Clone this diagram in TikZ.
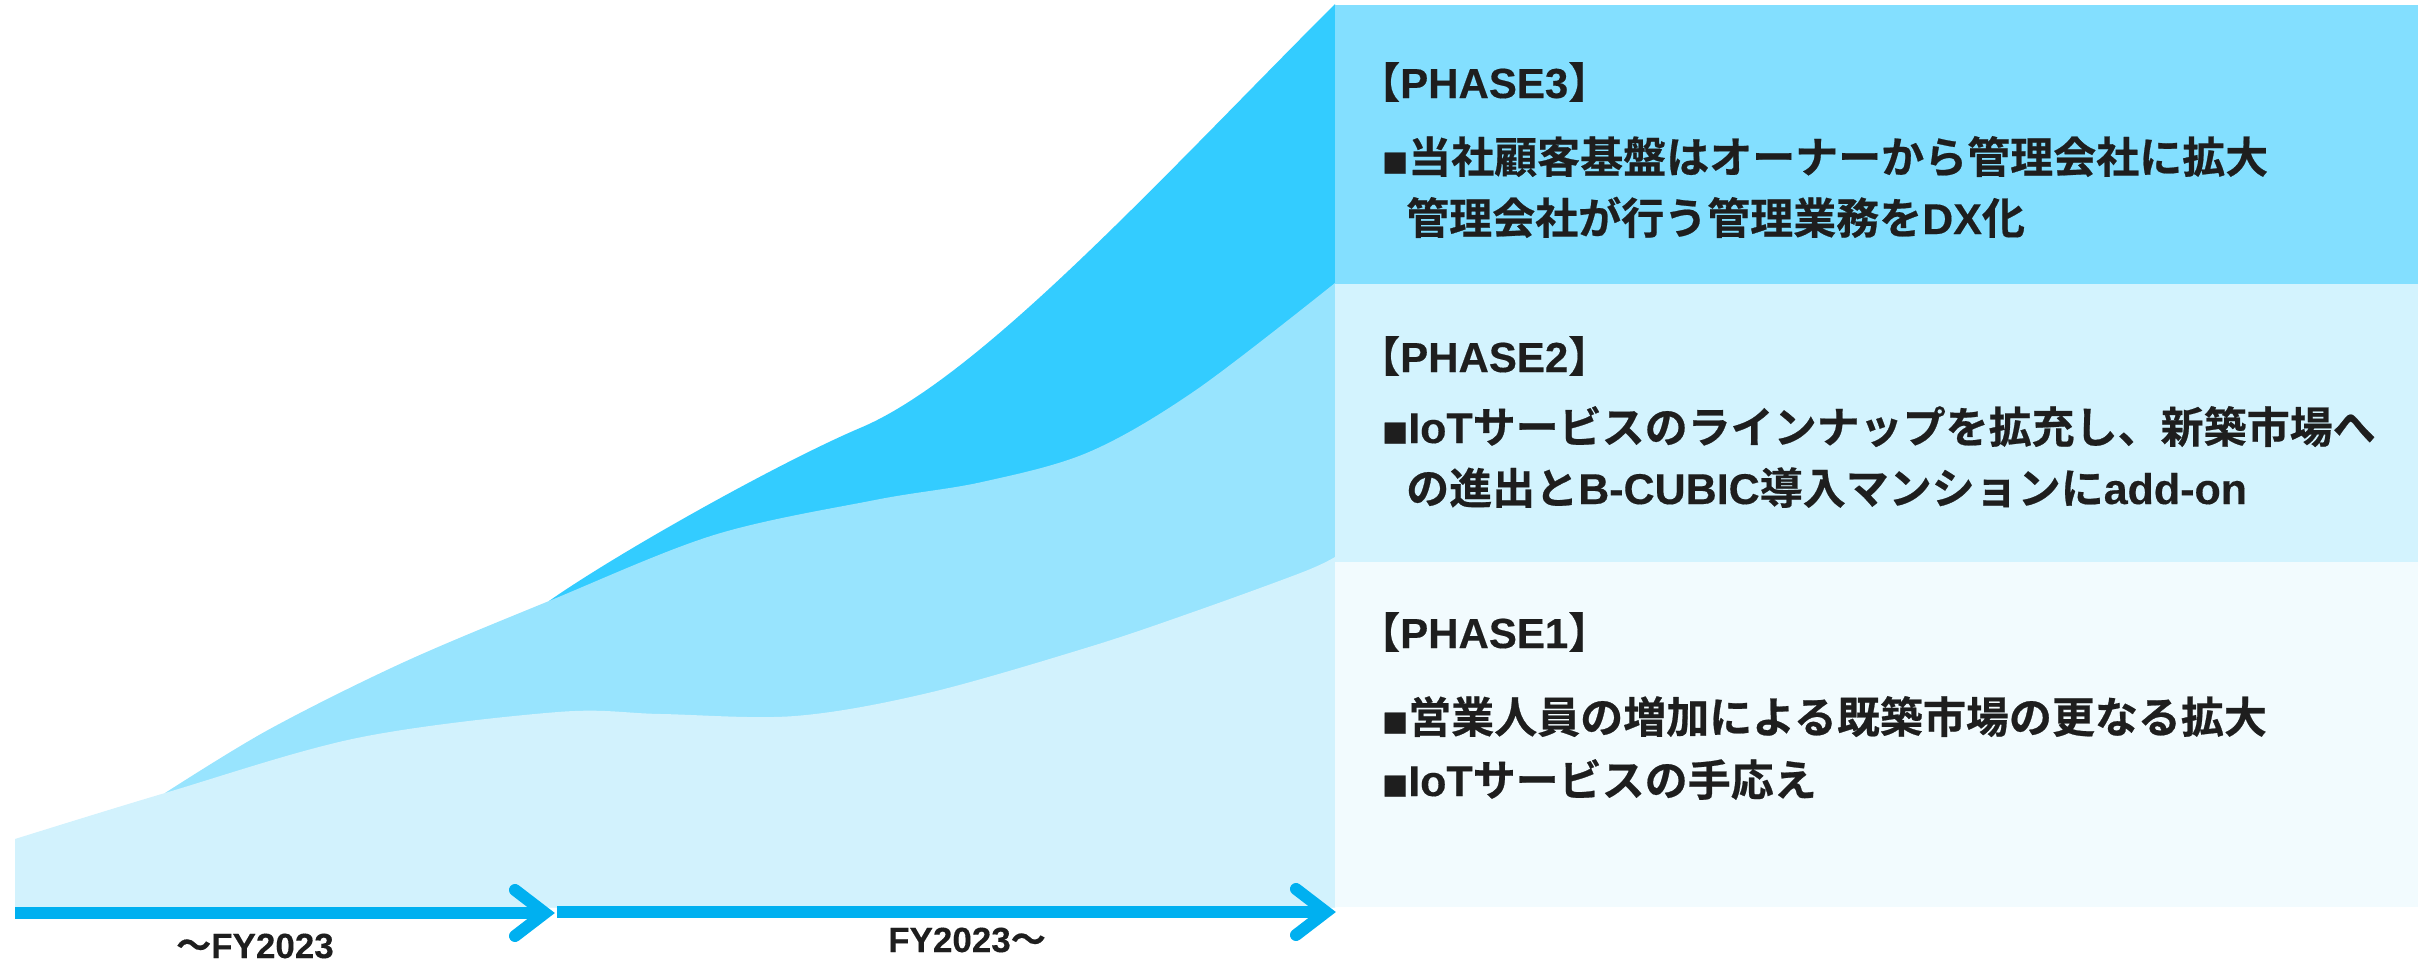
\documentclass[tikz,border=0pt]{standalone}
\usepackage{fontspec}
\setmainfont{Noto Sans CJK JP Bold}[FakeBold=0.5]
\newfontfamily\lat{Liberation Sans Bold}[FakeBold=0.3]
\definecolor{bandA}{HTML}{33CCFF}
\definecolor{bandB}{HTML}{98E4FE}
\definecolor{bandC}{HTML}{D2F2FD}
\definecolor{boxA}{HTML}{83DFFF}
\definecolor{boxB}{HTML}{D3F3FE}
\definecolor{boxC}{HTML}{F2FBFE}
\definecolor{arrowc}{HTML}{00B0F0}
\definecolor{textc}{HTML}{1E1E1E}
\newcommand{\bsq}{{\fontsize{26}{26}\selectfont ■}}
\begin{document}
\begin{tikzpicture}[x=1pt,y=-1pt,
  head/.style={anchor=base west, inner sep=0pt, font=\fontsize{42}{42}\selectfont, text=textc},
  body/.style={anchor=base west, inner sep=0pt, font=\fontsize{43}{43}\selectfont, text=textc},
  lbl/.style={anchor=center, inner sep=0pt, font=\fontsize{35}{35}\selectfont, text=textc},
  shaft/.style={draw=arrowc, line width=12pt},
  chev/.style={draw=arrowc, line width=12pt, line cap=round, line join=miter, miter limit=10}]
\useasboundingbox (0,0) rectangle (2425,961);
% growth bands
\fill[bandA] (549,601) .. controls (619,552) and (780,462) .. (860,428)
  .. controls (980,378) and (1165,174) .. (1335,4) -- (1335,907) -- (549,907) -- cycle;
\fill[bandB] plot[smooth, tension=0.55] coordinates {(165,793) (268,730) (402,663) (549,601) (714,535) (875,500) (982,482) (1089,452) (1196,390) (1335,283)} -- (1335,907) -- (165,907) -- cycle;
\fill[bandC] plot[smooth, tension=0.55] coordinates {(15,839) (165,793) (357,738) (558,712) (661,714) (795,716) (928,693) (1089,647) (1196,611) (1303,572) (1335,557)} -- (1335,907) -- (15,907) -- cycle;
% phase boxes
\fill[boxA] (1335,5) rectangle (2418,284);
\fill[boxB] (1335,284) rectangle (2418,562);
\fill[boxC] (1335,562) rectangle (2418,907);
% texts
\node[head] (h3) at (1358,98) {【{\lat PHASE3}】};
\node[body] (p3a) at (1382,173) {\bsq 当社顧客基盤はオーナーから管理会社に拡大};
\node[body] (p3b) at (1406,234) {管理会社が行う管理業務を{\lat DX}化};
\node[head] (h2) at (1358,372) {【{\lat PHASE2}】};
\node[body] (p2a) at (1382,443) {\bsq{\lat IoT}サービスのラインナップを拡充し、新築市場へ};
\node[body] (p2b) at (1406,504) {の進出と{\lat B-CUBIC}導入マンションに{\lat add-on}};
\node[head] (h1) at (1358,648) {【{\lat PHASE1}】};
\node[body] (p1a) at (1382,733) {\bsq 営業人員の増加による既築市場の更なる拡大};
\node[body] (p1b) at (1382,796) {\bsq{\lat IoT}サービスの手応え};
% timeline arrows
\coordinate (a1s) at (15,913);
\coordinate (a1e) at (546,913);
\coordinate (a1u) at (515,890);
\coordinate (a1t) at (545,913);
\coordinate (a1d) at (515,936);
\draw[shaft] (a1s) -- (a1e);
\draw[chev] (a1u) -- (a1t) -- (a1d);
\coordinate (a2s) at (557,912);
\coordinate (a2e) at (1327,912);
\coordinate (a2u) at (1296,889);
\coordinate (a2t) at (1326,912);
\coordinate (a2d) at (1296,935);
\draw[shaft] (a2s) -- (a2e);
\draw[chev] (a2u) -- (a2t) -- (a2d);
\node[lbl] (l1) at (255,946) {～{\lat FY2023}};
\node[lbl] (l2) at (967,940) {{\lat FY2023}～};
\end{tikzpicture}
\end{document}
